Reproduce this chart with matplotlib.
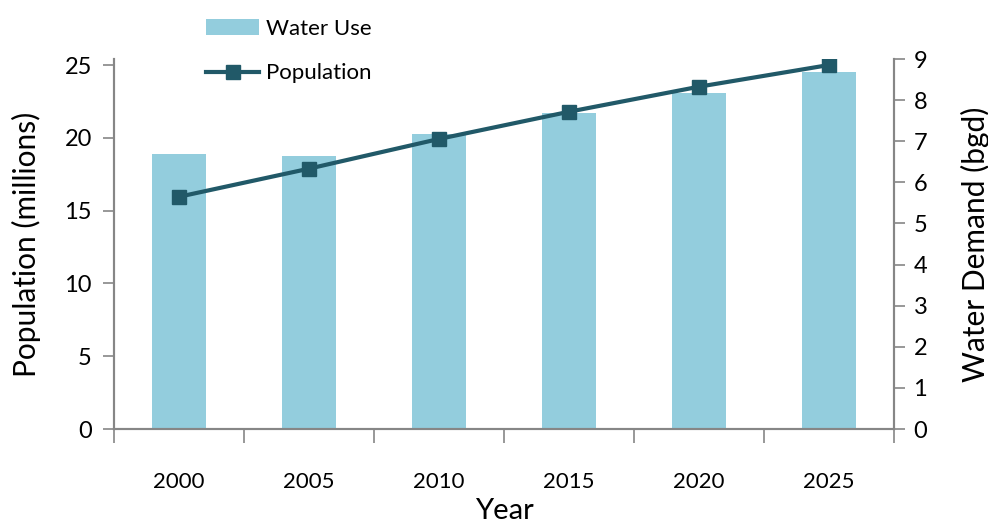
import matplotlib
matplotlib.use("Agg")
import matplotlib.pyplot as plt
import numpy as np

plt.rcParams['font.family'] = ['Lato', 'DejaVu Sans']

years = ['2000', '2005', '2010', '2015', '2020', '2025']
water_use = [6.69, 6.64, 7.17, 7.68, 8.18, 8.68]       # bgd
population = [15.95, 17.88, 19.92, 21.79, 23.51, 25.0]  # millions

bar_color = '#93CDDD'
line_color = '#215968'
axis_color = '#868686'
fontSize = 16

fig = plt.figure(figsize=(9.88, 5.25), dpi=100)
ax1 = fig.add_axes([114/988, 1-429/525, 780/988, 370/525])
ax2 = ax1.twinx()

x = np.arange(len(years))

# bars on the right axis, population line on the left
ax2.bar(x, water_use, width=0.41, color=bar_color, label='Water Use', zorder=1)
ax1.plot(x, population, color=line_color, lw=3, marker='s', markersize=10,
         label='Population', zorder=3)

ax1.set_zorder(ax2.get_zorder() + 1)
ax1.patch.set_visible(False)

ax1.set_xlim(-0.5, len(years) - 0.5)
ax1.set_ylim(0, 25 * 370 / 364)
ax1.set_yticks(range(0, 26, 5))
ax2.set_ylim(0, 9)
ax2.set_yticks(range(0, 10))

# category labels between boundary tick marks
ax1.set_xticks(x)
ax1.set_xticklabels(years, fontsize=fontSize)
ax1.tick_params(axis='x', which='major', length=0, pad=31)
ax1.set_xticks(np.arange(-0.5, len(years)), minor=True)
ax1.tick_params(axis='x', which='minor', length=10, width=1.2, color=axis_color, direction='out')

ax1.tick_params(axis='y', labelsize=fontSize+1, length=8, width=1.2, color=axis_color, pad=8)
ax2.tick_params(axis='y', labelsize=fontSize+1, length=8, width=1.2, color=axis_color, pad=6)

for ax in (ax1, ax2):
    ax.spines['top'].set_visible(False)
    for s in ('left', 'right', 'bottom'):
        ax.spines[s].set_color(axis_color)
        ax.spines[s].set_linewidth(1.5)

ax1.set_xlabel('Year', fontsize=21, labelpad=4)
ax1.set_ylabel('Population (millions)', fontsize=21.5, labelpad=17)
ax2.set_ylabel('Water Demand (bgd)', fontsize=21.5, labelpad=24)

h2, l2 = ax2.get_legend_handles_labels()
h1, l1 = ax1.get_legend_handles_labels()
fig.legend(h2 + h1, l2 + l1, loc='upper left', bbox_to_anchor=(186/988, 1 + 1/525),
           frameon=False, fontsize=16, labelspacing=1.1, handlelength=2.4,
           handletextpad=0.3)

plt.savefig('out.png', dpi=100)
